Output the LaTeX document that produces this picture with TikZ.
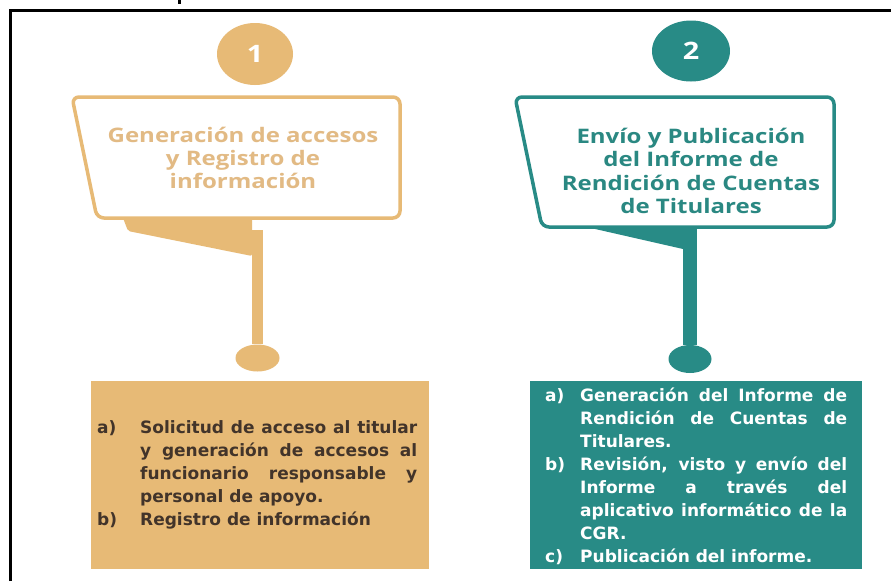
\documentclass[tikz,border=0pt]{standalone}
\usepackage{fontspec}
\setmainfont{Open Sans}
\newfontfamily\headfont[FakeStretch=1.2]{Open Sans}
\newfontfamily\listfont{DejaVu Sans}
\usetikzlibrary{shapes.geometric}
\definecolor{goldc}{RGB}{231,186,118}
\definecolor{goldtext}{RGB}{226,186,132}
\definecolor{tealc}{RGB}{40,139,134}
\definecolor{tealtext}{RGB}{42,136,130}
\definecolor{brownt}{RGB}{66,52,42}
\begin{document}
\begin{tikzpicture}[x=1pt,y=-1pt,
  numcircle/.style={ellipse, inner sep=0pt, text=white,
    font=\headfont\bfseries\fontsize{24}{24}\selectfont},
  knob/.style={ellipse, inner sep=0pt},
  banner/.style={line width=3.5pt, fill=white, rounded corners=7pt},
  headtext/.style={align=center, inner sep=0pt,
    font=\headfont\bfseries\fontsize{20}{23.3}\selectfont},
  listbox/.style={rectangle, inner sep=0pt, minimum height=188pt},
  listtext/.style={align=justify, inner sep=0pt, anchor=west,
    font=\listfont\bfseries\fontsize{17}{23}\selectfont,
    execute at begin node={\tolerance=10000\hyphenpenalty=10000\exhyphenpenalty=10000}}
]
\useasboundingbox (0,0) rectangle (891,581);
\fill[white] (0,0) rectangle (891,581);
% frame
\draw[black, line width=2.5pt] (10.5,581) -- (10.5,10.5) -- (891,10.5);
\fill[black] (177.5,0) rectangle (181,4);

% ---------- left group ----------
\node[numcircle, fill=goldc, minimum width=76pt, minimum height=62pt] (c1) at (255,54) {1};
\fill[goldc, rounded corners=2pt] (123,218) -- (252,218) -- (252,256) -- (128,231) -- cycle;
\draw[banner, draw=goldc] (72,97) -- (400,97) -- (400,218) -- (97,218) -- cycle;
\node[headtext, text=goldtext] (h1) at (243,158) {Generación de accesos\\y Registro de\\información};
\coordinate (p1) at (257.5,230);
\node[knob, fill=goldc, minimum width=44pt, minimum height=27pt] (k1) at (257.5,358) {};
\draw[goldc, line width=11pt] (p1) -- (k1);
\node[listbox, fill=goldc, minimum width=338pt] (b1) at (260,475) {};
\node[listtext, text width=320pt, text=brownt] (t1) at (97,475) {%
\hangindent=43pt\hangafter=1\noindent\makebox[43pt][l]{a)}Solicitud de acceso al titular\linebreak y generación de accesos al\linebreak funcionario responsable y\linebreak personal de apoyo.\par
\hangindent=43pt\hangafter=1\noindent\makebox[43pt][l]{b)}Registro de información\par};

% ---------- right group ----------
\node[numcircle, fill=tealc, minimum width=78pt, minimum height=61pt] (c2) at (691,51) {2};
\fill[tealc] (582,226) -- (683,226) -- (683,249) -- cycle;
\draw[banner, draw=tealc] (515,97) -- (834,97) -- (834,227) -- (542,227) -- cycle;
\node[headtext, text=tealtext] (h2) at (691,171) {Envío y Publicación\\del Informe de\\Rendición de Cuentas\\de Titulares};
\coordinate (p2) at (690,227);
\node[knob, fill=tealc, minimum width=43pt, minimum height=28pt] (k2) at (690,359) {};
\draw[tealc, line width=14pt] (p2) -- (k2);
\node[listbox, fill=tealc, minimum width=332pt] (b2) at (696,475) {};
\node[listtext, text width=302pt, text=white] (t2) at (545,476) {%
\hangindent=35pt\hangafter=1\noindent\makebox[35pt][l]{a)}Generación del Informe de\linebreak Rendición de Cuentas de\linebreak Titulares.\par
\hangindent=35pt\hangafter=1\noindent\makebox[35pt][l]{b)}Revisión, visto y envío del\linebreak Informe a través del\linebreak aplicativo informático de la\linebreak CGR.\par
\hangindent=35pt\hangafter=1\noindent\makebox[35pt][l]{c)}Publicación del informe.\par};
\end{tikzpicture}
\end{document}
